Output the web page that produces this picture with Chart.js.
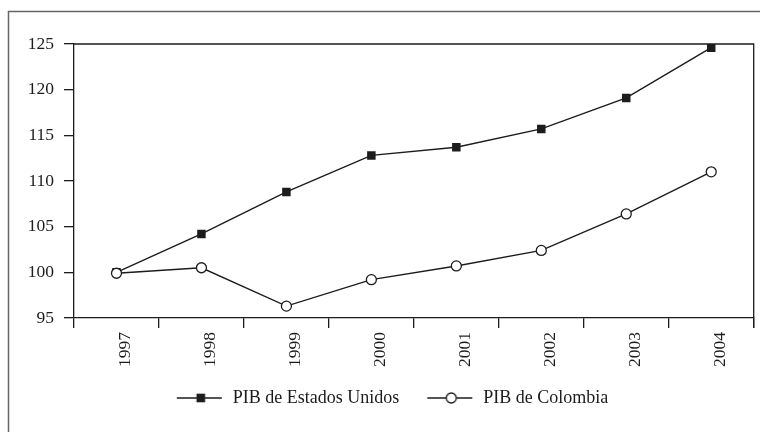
<!DOCTYPE html>
<html>
<head>
<meta charset="utf-8">
<script src="https://cdn.jsdelivr.net/npm/chart.js@4/dist/chart.umd.min.js"></script>
<style>
  html, body { margin: 0; padding: 0; background: #fff; }
  #wrap { width: 760px; height: 432px; position: relative; }
</style>
</head>
<body>
<div id="wrap"><canvas id="gdpChart" width="760" height="432"></canvas></div>
<script>
// Data (indices, 1997 = 100)
const years = ["1997", "1998", "1999", "2000", "2001", "2002", "2003", "2004"];
const usGdp = [100, 104.2, 108.8, 112.8, 113.7, 115.7, 119.1, 124.6];
const colGdp = [99.9, 100.5, 96.3, 99.2, 100.7, 102.4, 106.4, 111.0];
const seriesNames = ["PIB de Estados Unidos", "PIB de Colombia"];
const yMin = 95, yMax = 125, yStep = 5;

const ink = "#1c1c1c";
const serif = "'Liberation Serif', 'DejaVu Serif', serif";

// legend swatch: short line with the marker on it
function makeSwatch(kind) {
  const c = document.createElement("canvas");
  c.width = 65; c.height = 14;
  const g = c.getContext("2d");
  g.strokeStyle = ink;
  g.lineWidth = 1.4;
  g.beginPath(); g.moveTo(18, 7); g.lineTo(63, 7); g.stroke();
  if (kind === "rect") {
    g.fillStyle = ink;
    g.fillRect(42 - 4.3, 7 - 4.3, 8.6, 8.6);
  } else {
    g.fillStyle = "#fff";
    g.lineWidth = 1.3;
    g.beginPath(); g.arc(42, 7, 5, 0, Math.PI * 2); g.fill(); g.stroke();
  }
  return c;
}
const swatches = [makeSwatch("rect"), makeSwatch("circle")];

// outer frame + top/right edges of the plot box
const framePlugin = {
  id: "frames",
  beforeDraw(chart) {
    const ctx = chart.ctx;
    ctx.save();
    ctx.strokeStyle = "#666";
    ctx.lineWidth = 1.5;
    ctx.strokeRect(8.5, 11.5, 800, 500);
    ctx.restore();
  },
  beforeDatasetsDraw(chart) {
    const { left, top, right, bottom } = chart.chartArea;
    const ctx = chart.ctx;
    ctx.save();
    ctx.strokeStyle = ink;
    ctx.lineWidth = 1.3;
    ctx.beginPath();
    ctx.moveTo(left, top); ctx.lineTo(right, top); ctx.lineTo(right, bottom + 10);
    ctx.stroke();
    ctx.restore();
  }
};

const ctx = document.getElementById("gdpChart").getContext("2d");
new Chart(ctx, {
  type: "line",
  data: {
    labels: years,
    datasets: [
      {
        label: seriesNames[0],
        data: usGdp,
        borderColor: ink,
        borderWidth: 1.4,
        pointStyle: "rect",
        pointRadius: 6,
        pointBackgroundColor: ink,
        pointBorderColor: ink,
        pointBorderWidth: 0,
        tension: 0,
        order: 1
      },
      {
        label: seriesNames[1],
        data: colGdp,
        borderColor: ink,
        borderWidth: 1.4,
        pointStyle: "circle",
        pointRadius: 5,
        pointBackgroundColor: "#fff",
        pointBorderColor: ink,
        pointBorderWidth: 1.3,
        tension: 0,
        order: 0
      }
    ]
  },
  options: {
    responsive: false,
    animation: false,
    layout: { padding: { left: 12, right: 5, top: 44, bottom: 15 } },
    plugins: {
      tooltip: { enabled: false },
      legend: {
        position: "bottom",
        labels: {
          usePointStyle: true,
          pointStyleWidth: 65,
          padding: 10,
          color: ink,
          font: { family: serif, size: 18 },
          generateLabels: (chart) => chart.data.datasets.map((ds, i) => ({
            text: ds.label,
            pointStyle: swatches[i],
            fillStyle: ink,
            strokeStyle: ink,
            lineWidth: 0,
            fontColor: ink,
            hidden: false,
            datasetIndex: i
          }))
        }
      }
    },
    scales: {
      x: {
        type: "category",
        offset: true,
        afterFit: (s) => { s.height = 61; },
        border: { display: true, color: ink, width: 1.3 },
        grid: { offset: true, drawOnChartArea: false, drawTicks: true, tickLength: 10, color: ink, lineWidth: 1.3 },
        ticks: {
          minRotation: 90, maxRotation: 90, padding: 4, labelOffset: 9,
          color: ink, font: { family: serif, size: 17.5 }
        }
      },
      y: {
        min: yMin, max: yMax,
        afterFit: (s) => { s.width = 62; },
        border: { display: true, color: ink, width: 1.3 },
        grid: { drawOnChartArea: false, drawTicks: true, tickLength: 10, color: ink, lineWidth: 1.3 },
        ticks: {
          stepSize: yStep, padding: 10,
          color: ink, font: { family: serif, size: 17.5 }
        }
      }
    }
  },
  plugins: [framePlugin]
});
</script>
</body>
</html>
